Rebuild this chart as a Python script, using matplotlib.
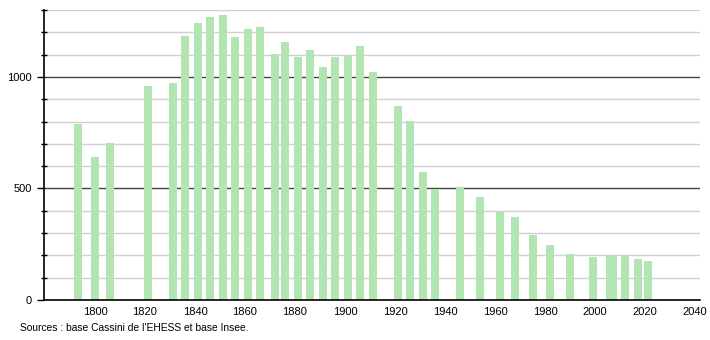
import matplotlib
matplotlib.use("Agg")
import matplotlib.pyplot as plt
from matplotlib.ticker import MultipleLocator, FixedLocator

years = [1793, 1800, 1806, 1821, 1831, 1836, 1841, 1846, 1851, 1856, 1861, 1866,
         1872, 1876, 1881, 1886, 1891, 1896, 1901, 1906, 1911, 1921, 1926, 1931,
         1936, 1946, 1954, 1962, 1968, 1975, 1982, 1990, 1999, 2006, 2007, 2012,
         2017, 2021]
population = [789, 641, 704, 960, 973, 1184, 1242, 1269, 1278, 1179, 1215, 1224,
              1103, 1157, 1090, 1121, 1045, 1090, 1094, 1139, 1022, 870, 803, 574,
              498, 507, 462, 395, 372, 291, 247, 206, 193, 197, 197, 197,
              184, 175]
x_ticks = [1800, 1820, 1840, 1860, 1880, 1900, 1920, 1940, 1960, 1980, 2000, 2020, 2040]
y_ticks = [0, 500, 1000]
source_text = "Sources : base Cassini de l'EHESS et base Insee."

plt.rcParams['font.family'] = ['Liberation Sans', 'DejaVu Sans']

fig = plt.figure(figsize=(7.1, 3.4), dpi=100)
ax = fig.add_axes([44/710, 40/340, 656/710, 290/340])

ax.set_xlim(1779.6, 2042)
ax.set_ylim(0, 1300)

# gridlines
for v in range(100, 1301, 100):
    if v % 500 == 0:
        ax.axhline(v, color='#444444', lw=1.0, zorder=1)
    else:
        ax.axhline(v, color='#d0d0d0', lw=1.0, zorder=1)

ax.bar(years, population, width=3.2, color='#b2e5b2', zorder=2, linewidth=0)

for s in ['top', 'right']:
    ax.spines[s].set_visible(False)
ax.spines['left'].set_color('black')
ax.spines['bottom'].set_color('black')
ax.spines['left'].set_linewidth(1.2)
ax.spines['bottom'].set_linewidth(1.2)

ax.yaxis.set_major_locator(FixedLocator(y_ticks))
ax.yaxis.set_minor_locator(MultipleLocator(100))
ax.tick_params(axis='y', which='major', length=5, width=1, direction='out',
               labelsize=8, pad=4)
ax.tick_params(axis='y', which='minor', length=4, width=1, direction='inout')
ax.xaxis.set_major_locator(FixedLocator(x_ticks))
ax.tick_params(axis='x', which='major', length=0, labelsize=8, pad=5)
ax.set_xticklabels([str(t) for t in x_ticks])

fig.text(20/710, 1 - 328/340, source_text, fontsize=7.4, va='center', ha='left')

fig.savefig("out.png", dpi=100)
